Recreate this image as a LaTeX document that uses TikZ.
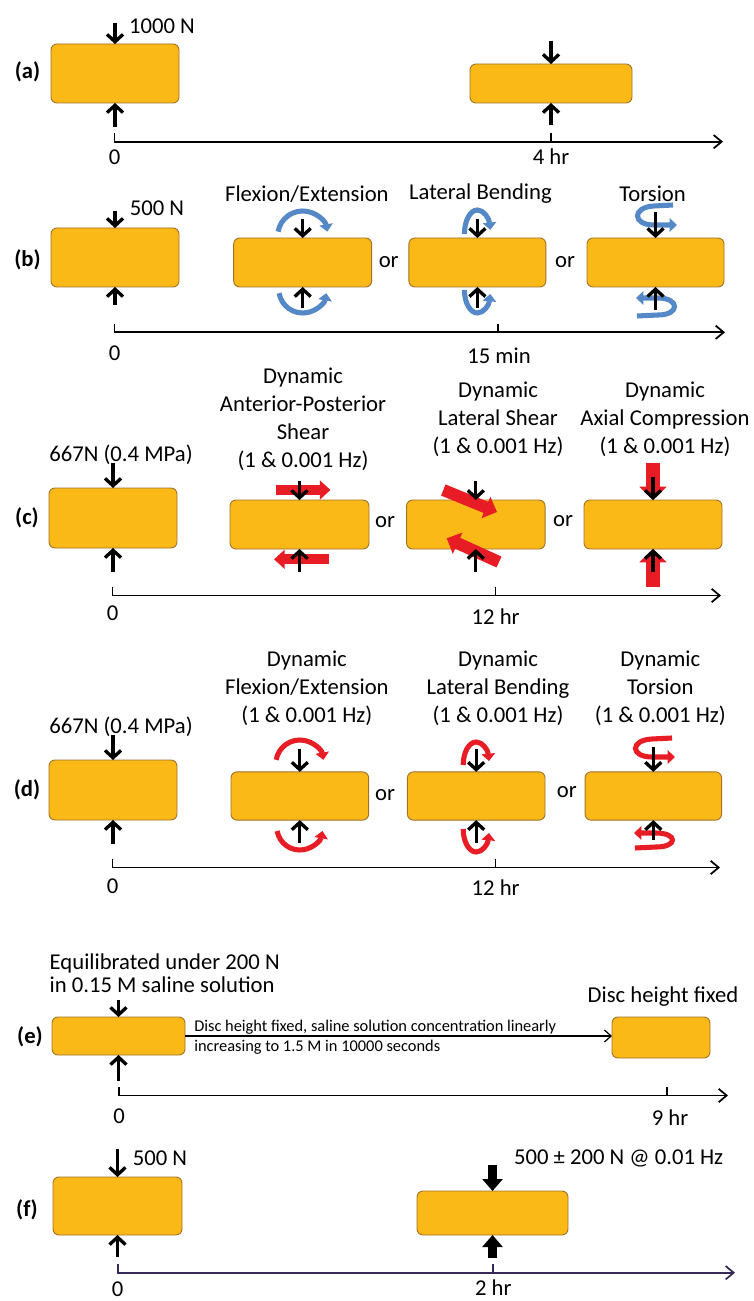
\documentclass[tikz,border=0pt]{standalone}
\usepackage{fontspec}
\setmainfont{Carlito}
\usetikzlibrary{arrows.meta,calc}
\definecolor{discfill}{RGB}{251,185,24}
\definecolor{discedge}{RGB}{160,115,40}
\definecolor{rotblue}{RGB}{84,136,199}
\definecolor{shearred}{RGB}{232,28,36}
\definecolor{axispurple}{RGB}{55,40,85}
\newcommand{\discnode}[5]{\node[disc, minimum width=#4*0.75pt, minimum height=#5*0.75pt] (#1) at (#2,#3) {};}
\tikzset{
  disc/.style={draw=discedge, fill=discfill, line width=0.7pt, rounded corners=4.5pt, inner sep=0pt, outer sep=0pt},
  force/.style={line width=2.5pt, -{Straight Barb[length=5.5pt,width=12pt,line width=2.5pt]}},
  bigforce/.style={line width=7pt, -{Triangle[length=9pt,width=15pt]}},
  axisline/.style={line width=1.3pt, -{Straight Barb[length=6pt,width=10pt,line width=1.3pt]}},
  tickline/.style={line width=1.3pt},
  rotb/.style={rotblue, line width=3.8pt, -{Triangle[length=5.5pt,width=10pt]}},
  rotr/.style={shearred, line width=3.8pt, -{Triangle[length=5.5pt,width=10pt]}},
  shear/.style={shearred, line width=7.5pt, -{Triangle[length=8pt,width=14pt]}},
  diagshear/.style={shearred, line width=9pt, -{Triangle[length=9pt,width=17pt]}},
  axial/.style={shearred, line width=10pt, -{Triangle[length=10pt,width=20pt]}},
  panel/.style={font=\fontsize{17}{20}\selectfont\bfseries},
  lbl/.style={align=center, font=\fontsize{17}{21}\selectfont},
  small/.style={font=\fontsize{12.3}{14}\selectfont, anchor=west, inner sep=0pt},
  thinarrow/.style={line width=0.9pt, -{Straight Barb[length=5pt,width=9pt,line width=0.9pt]}}
}
\begin{document}
\begin{tikzpicture}[x=0.75pt, y=-0.75pt, font=\fontsize{17}{20}\selectfont]
\fill[white] (0,0) rectangle (753,1301);
\useasboundingbox (0,0) rectangle (753,1301);

% ---------------- (a)
\discnode{a1}{115}{73.5}{128}{59}
\discnode{a2}{551}{83.5}{162}{39}
\node[panel] (pa) at (27.5,72) {(a)};
\node (a1load) at (162,26) {1000 N};
\draw[force] ($(a1.north)+(0,-21)$) -- (a1.north);
\draw[force] ($(a1.south)+(0,24)$) -- (a1.south);
\draw[force] ($(a2.north)+(0,-23)$) -- (a2.north);
\draw[force] ($(a2.south)+(0,22)$) -- (a2.south);
\draw[axisline] (114.5,133) -- (114.5,141.7) -- (723,141.7);
\draw[tickline] (551,133) -- (551,141.7);
\node (a0) at (114.5,157) {0};
\node (a4) at (551,157) {4 hr};

% ---------------- (b)
\discnode{b1}{115}{257.5}{128}{59}
\node[panel] (pb) at (27.5,260) {(b)};
\node (b1load) at (157,208.5) {500 N};
\draw[force] ($(b1.north)+(0,-17)$) -- (b1.north);
\draw[force] ($(b1.south)+(0,18)$) -- (b1.south);
\discnode{b2}{302.7}{262.5}{138}{49}
\discnode{b3}{477.4}{262.5}{137}{49}
\discnode{b4}{655.5}{262.5}{137}{49}
\node (bor1) at (388.7,262) {or};
\node (bor2) at (565,262) {or};
\node (bl1) at (306.9,194) {Flexion/Extension};
\node (bl2) at (480.4,194) {Lateral Bending};
\node (bl3) at (652.6,194) {Torsion};
% flexion
\draw[rotb] ([shift={(190:25)}]302.7,236) arc[start angle=190, end angle=350, radius=25];
\draw[rotb] ([shift={(170:24)}]302.7,289) arc[start angle=170, end angle=10, radius=24];
% lateral bending
\draw[rotb] ([shift={(180:13 and 24)}]477.4,234) arc[start angle=180, end angle=350, x radius=13, y radius=24];
\draw[rotb] ([shift={(180:13 and 23)}]477.4,290) arc[start angle=180, end angle=10, x radius=13, y radius=23];
% torsion
\draw[rotb] (673,205) -- (654,206) .. controls (632,207) and (632,225) .. (654,225) -- (677,225);
\draw[rotb] (637,316) -- (658,315) .. controls (680,315) and (680,298) .. (658,298) -- (636,298);
\draw[force] ($(b2.north)+(0,-19)$) -- (b2.north);
\draw[force] ($(b2.south)+(0,21)$) -- (b2.south);
\draw[force] ($(b3.north)+(0,-19)$) -- (b3.north);
\draw[force] ($(b3.south)+(0,21)$) -- (b3.south);
\draw[force, line width=1.8pt] ($(b4.north)+(0,-26)$) -- (b4.north);
\draw[force, line width=1.8pt] ($(b4.south)+(0,23)$) -- (b4.south);
\draw[axisline] (114.5,324) -- (114.5,332.3) -- (725,332.3);
\draw[tickline] (498,324) -- (498,332.3);
\node (b0) at (114.5,353) {0};
\node (b15) at (499,356) {15 min};

% ---------------- (c)
\discnode{c1}{113}{518}{128}{60}
\node[panel] (pc) at (27,518) {(c)};
\node (c1load) at (121,455) {667N (0.4 MPa)};
\draw[force] ($(c1.north)+(0,-25)$) -- (c1.north);
\draw[force] ($(c1.south)+(0,24)$) -- (c1.south);
\discnode{c2}{299.5}{524.5}{139}{49}
\discnode{c3}{475.8}{524.5}{138.5}{49}
\discnode{c4}{653}{524.5}{138}{49}
\node (cor1) at (385,521.7) {or};
\node (cor2) at (563,521) {or};
\node[lbl] (cl1) at (303,419.7) {Dynamic\\Anterior-Posterior\\Shear\\(1 \& 0.001 Hz)};
\node[lbl] (cl2) at (498,419.2) {Dynamic\\Lateral Shear\\(1 \& 0.001 Hz)};
\node[lbl] (cl3) at (665,419.2) {Dynamic\\Axial Compression\\(1 \& 0.001 Hz)};
\draw[shear] (275.8,490) -- (330.5,490);
\draw[shear] (328.7,559.3) -- (274,559.3);
\draw[diagshear] (443.3,490) -- (497,512);
\draw[diagshear] (499,562) -- (446.7,538.3);
\draw[axial] (653,462.7) -- (c4.north);
\draw[axial] (653,586.7) -- (c4.south);
\draw[force] ($(c2.north)+(0,-19)$) -- (c2.north);
\draw[force] ($(c2.south)+(0,23)$) -- (c2.south);
\draw[force] ($(c3.north)+(0,-19)$) -- (c3.north);
\draw[force] ($(c3.south)+(0,23)$) -- (c3.south);
\draw[force] ($(c4.north)+(0,-23)$) -- (c4.north);
\draw[force] ($(c4.south)+(0,23)$) -- (c4.south);
\draw[axisline] (112.5,587) -- (112.5,595.5) -- (721,595.5);
\draw[tickline] (495.6,587) -- (495.6,595.5);
\node (c0) at (112.5,613) {0};
\node (c12) at (495.6,617) {12 hr};

% ---------------- (d)
\discnode{d1}{113}{790}{128}{60}
\node[panel] (pd) at (27,790) {(d)};
\node (d1load) at (121,727) {667N (0.4 MPa)};
\draw[force] ($(d1.north)+(0,-25)$) -- (d1.north);
\draw[force] ($(d1.south)+(0,24)$) -- (d1.south);
\discnode{d2}{299.8}{796}{137.6}{48.3}
\discnode{d3}{476.2}{796}{137.6}{48.3}
\discnode{d4}{653.3}{796}{136.5}{48.3}
\node (dor1) at (385,795) {or};
\node (dor2) at (566.8,791.7) {or};
\node[lbl] (dl1) at (306.9,688.7) {Dynamic\\Flexion/Extension\\(1 \& 0.001 Hz)};
\node[lbl] (dl2) at (498,688.7) {Dynamic\\Lateral Bending\\(1 \& 0.001 Hz)};
\node[lbl] (dl3) at (660.3,688.7) {Dynamic\\Torsion\\(1 \& 0.001 Hz)};
\draw[rotr] ([shift={(190:24)}]299.8,764) arc[start angle=190, end angle=350, radius=24];
\draw[rotr] ([shift={(170:23)}]299.8,827) arc[start angle=170, end angle=10, radius=23];
\draw[rotr] ([shift={(180:13 and 23)}]476.2,765) arc[start angle=180, end angle=350, x radius=13, y radius=23];
\draw[rotr] ([shift={(180:13 and 23)}]476.2,829) arc[start angle=180, end angle=10, x radius=13, y radius=23];
\draw[rotr] (672,738) -- (652,739) .. controls (630,740) and (630,757) .. (652,757) -- (675,757);
\draw[rotr] (635,848) -- (656,847) .. controls (678,847) and (678,833) .. (656,833) -- (634,833);
\draw[force] ($(d2.north)+(0,-23)$) -- (d2.north);
\draw[force] ($(d2.south)+(0,23)$) -- (d2.south);
\draw[force] ($(d3.north)+(0,-23)$) -- (d3.north);
\draw[force] ($(d3.south)+(0,23)$) -- (d3.south);
\draw[force, line width=1.8pt] ($(d4.north)+(0,-25)$) -- (d4.north);
\draw[force, line width=1.8pt] ($(d4.south)+(0,20)$) -- (d4.south);
\draw[axisline] (112.5,859) -- (112.5,867.5) -- (720,867.5);
\draw[tickline] (495.6,859) -- (495.6,867.5);
\node (d0) at (112.5,886) {0};
\node (d12) at (495.6,888) {12 hr};

% ---------------- (e)
\discnode{e1}{118.5}{1036}{133}{38}
\discnode{e2}{661}{1037.5}{98}{41}
\node[panel] (pe) at (30,1037) {(e)};
\node[align=left, anchor=west, font=\fontsize{17}{17.5}\selectfont] (eq) at (45,973) {Equilibrated under 200 N\\in 0.15 M saline solution};
\draw[force] ($(e1.north)+(0,-17)$) -- (e1.north);
\draw[force] ($(e1.south)+(0,26)$) -- (e1.south);
\draw[thinarrow] (e1.east) -- (e1.east -| e2.west);
\node[small] (et1) at (194,1027) {Disc height fixed, saline solution concentration linearly};
\node[small] (et2) at (194,1047) {increasing to 1.5 M in 10000 seconds};
\node (ef) at (663,997) {Disc height fixed};
\draw[axisline] (119,1087) -- (119,1095.5) -- (728,1095.5);
\draw[tickline] (667,1087) -- (667,1095.5);
\node (e0) at (119,1116) {0};
\node (e9) at (670,1118) {9 hr};

% ---------------- (f)
\discnode{f1}{117.5}{1206}{129}{58}
\discnode{f2}{492.5}{1213}{151}{44}
\node[panel] (pf) at (27,1210) {(f)};
\node (f1load) at (160,1158) {500 N};
\node (f2load) at (618.6,1158) {500 ± 200 N @ 0.01 Hz};
\draw[force] ($(f1.north)+(0,-28)$) -- (f1.north);
\draw[force] ($(f1.south)+(0,22)$) -- (f1.south);
\draw[bigforce] ($(f2.north)+(0,-26)$) -- (f2.north);
\draw[bigforce] ($(f2.south)+(0,23)$) -- (f2.south);
\draw[axisline, axispurple] (117.7,1264) -- (117.7,1272.7) -- (735,1272.7);
\draw[tickline, axispurple] (493.3,1264) -- (493.3,1272.7);
\node (f0) at (117.7,1289) {0};
\node (f2h) at (493.3,1288) {2 hr};
\end{tikzpicture}
\end{document}
